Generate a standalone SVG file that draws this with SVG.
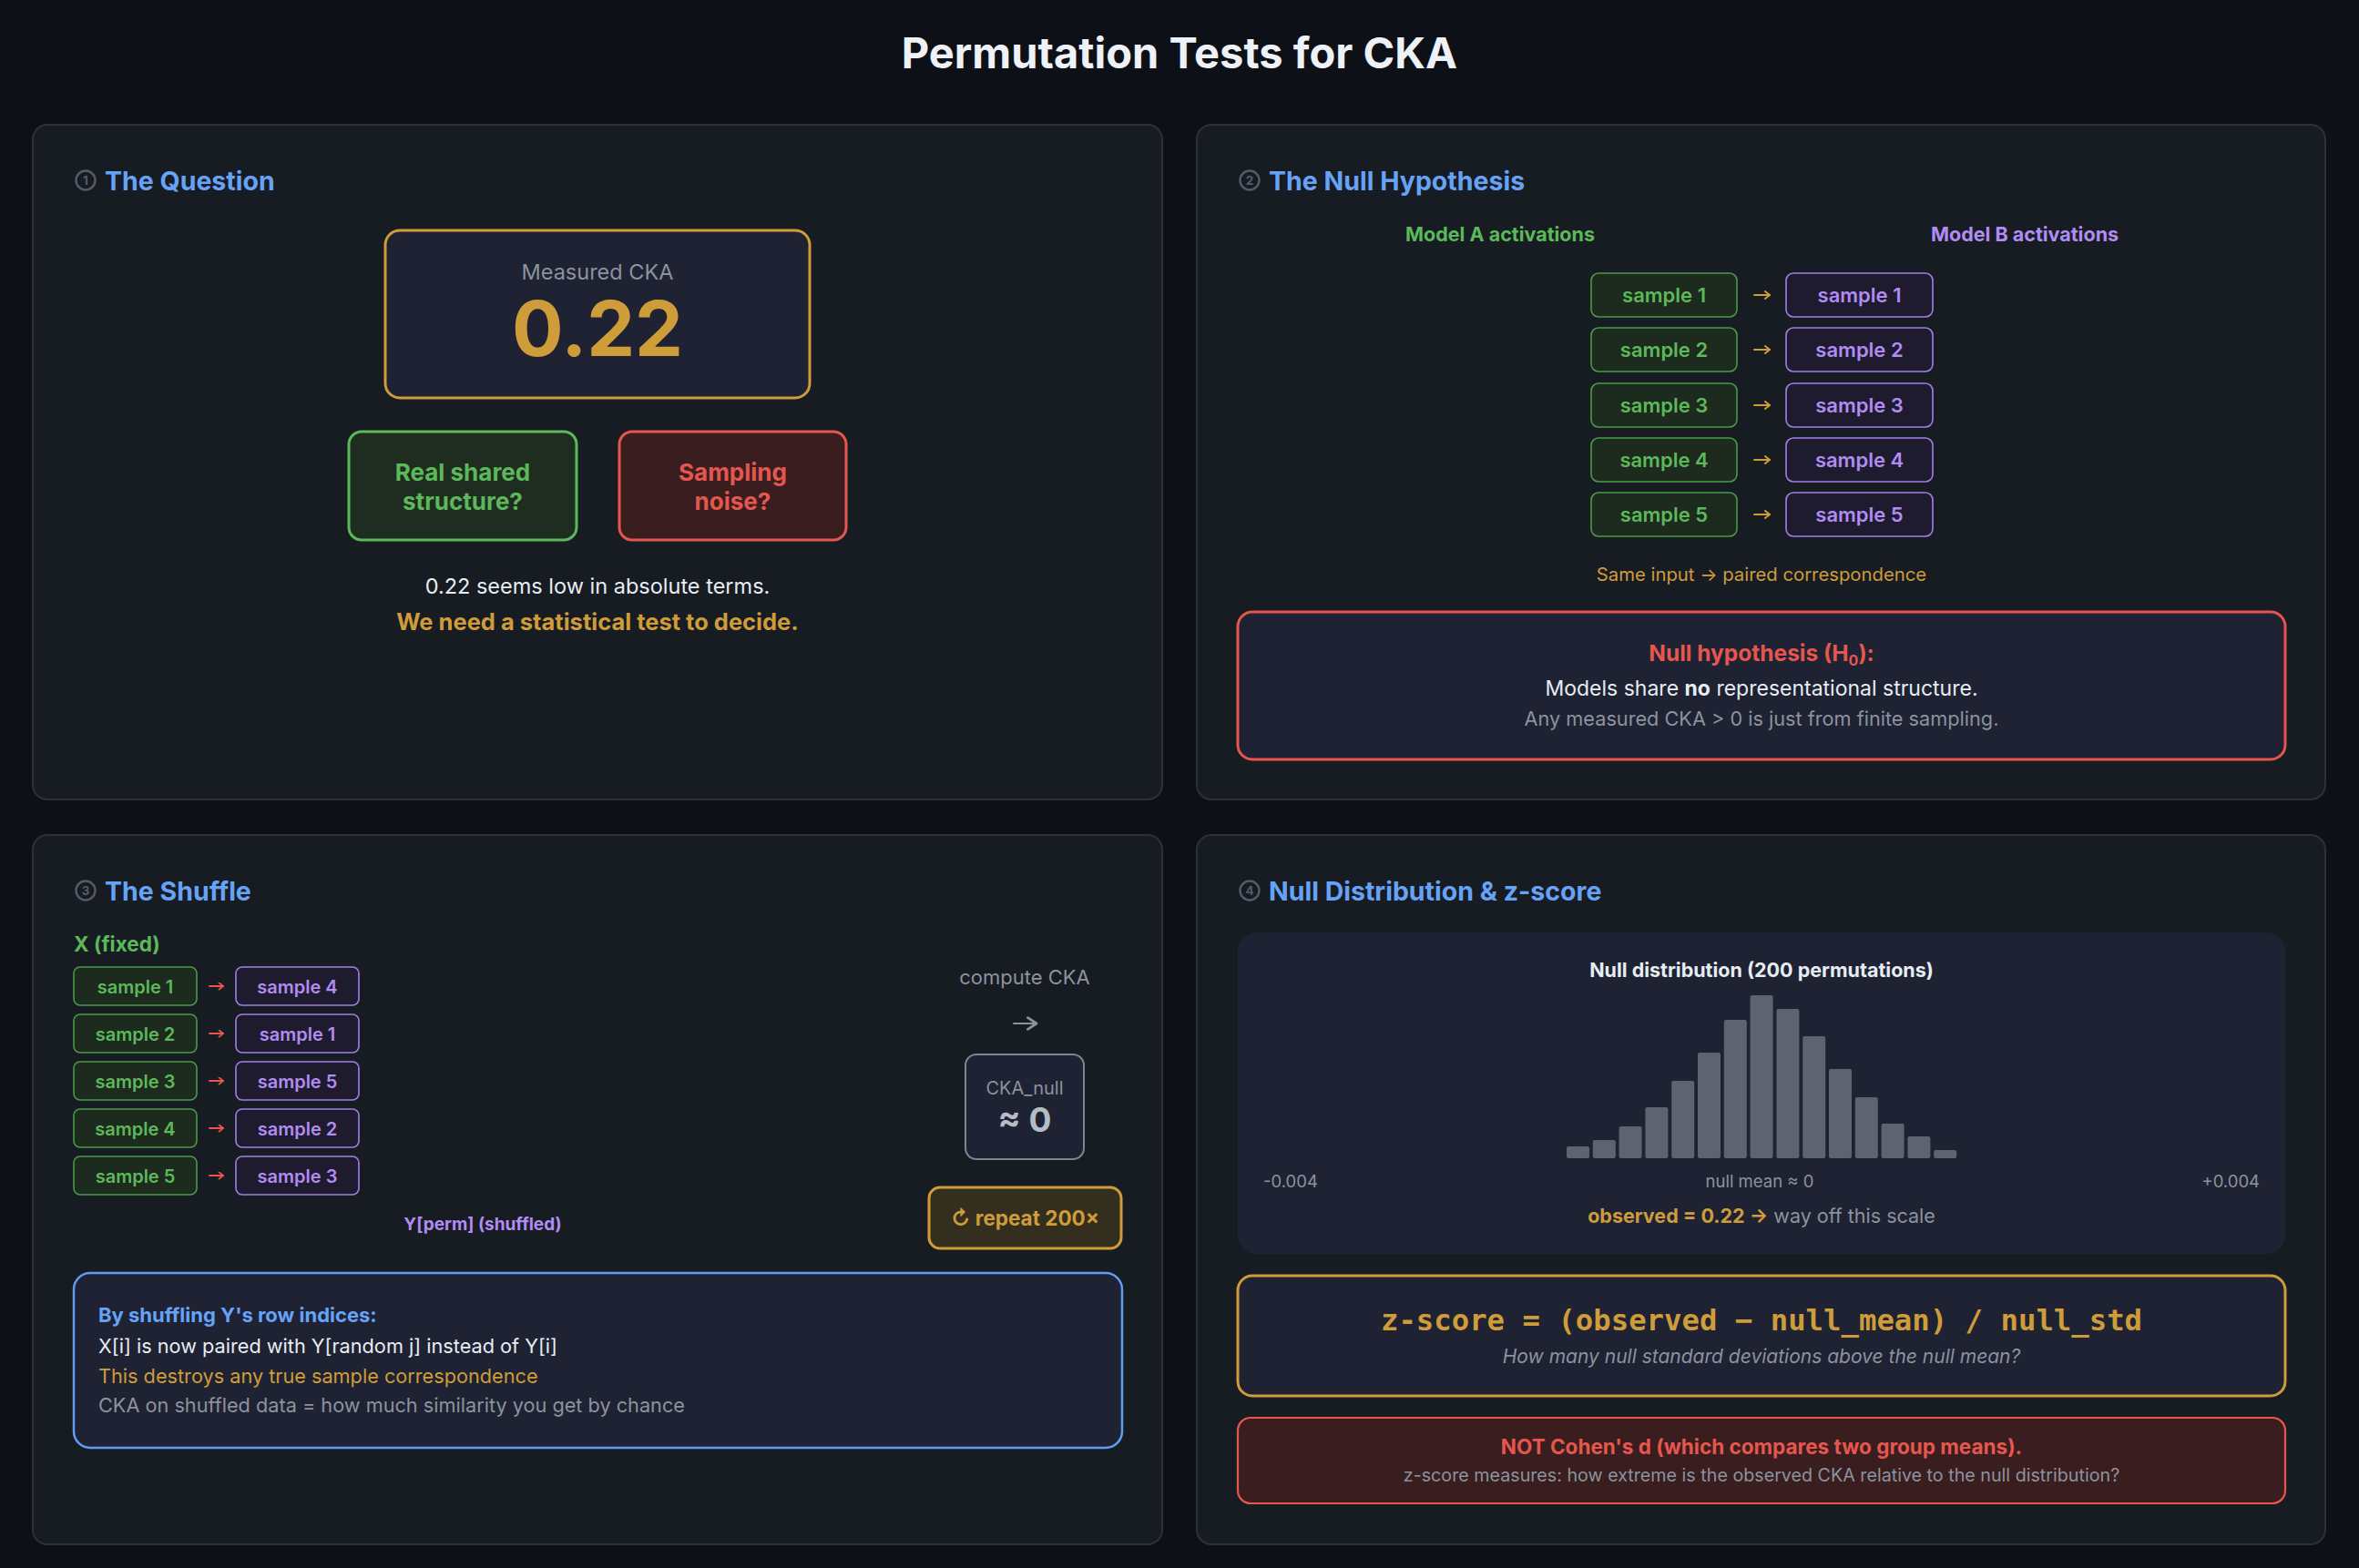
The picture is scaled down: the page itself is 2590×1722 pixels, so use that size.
<svg xmlns="http://www.w3.org/2000/svg" width="2590" height="1722" viewBox="0 0 2590 1722">
<defs>
<style>
text{font-family:Inter,"Noto Sans","Liberation Sans",sans-serif}
.panel{fill:#171b22;stroke:#2c3139;stroke-width:2}
.ptitle{font-size:28.5px;font-weight:700;fill:#66a3f7}
.pnumc{fill:none;stroke:#565c67;stroke-width:2.4}
.pnum{font-size:13.5px;font-weight:700;fill:#565c67;text-anchor:middle}
.c{text-anchor:middle}
.inner{fill:#1e2232}
.gA{fill:#1d2a1e;stroke:#4a9a48;stroke-width:1.6}
.gB{fill:#1f1b2e;stroke:#a27fe6;stroke-width:1.6}
.tA{fill:#5cb95a;font-weight:600;text-anchor:middle}
.tB{fill:#b18cf2;font-weight:600;text-anchor:middle}
.gold{fill:#cf9c3a}
.green{fill:#5cb95a}
.red{fill:#e5574e}
.purple{fill:#b18cf2}
.blue{fill:#66a3f7}
.gray{fill:#8b939e}
.white{fill:#e6edf3}
.bar{fill:#5d6370}
.arr{fill:none;stroke-width:2;stroke-linecap:round}
</style>
<marker id="ahGold" viewBox="0 0 10 10" refX="9" refY="5" markerWidth="10" markerHeight="10" markerUnits="userSpaceOnUse" orient="auto"><path d="M4,1 L9,5 L4,9" fill="none" stroke="#cf9c3a" stroke-width="2" stroke-linecap="round" stroke-linejoin="round"/></marker>
<marker id="ahRed" viewBox="0 0 10 10" refX="9" refY="5" markerWidth="9" markerHeight="9" markerUnits="userSpaceOnUse" orient="auto"><path d="M4,1 L9,5 L4,9" fill="none" stroke="#e5574e" stroke-width="2" stroke-linecap="round" stroke-linejoin="round"/></marker>
<marker id="ahGray" viewBox="0 0 10 10" refX="9" refY="5" markerWidth="16" markerHeight="16" markerUnits="userSpaceOnUse" orient="auto"><path d="M3,1 L9,5 L3,9" fill="none" stroke="#8b939e" stroke-width="1.7" stroke-linecap="round" stroke-linejoin="round"/></marker>
</defs>
<rect width="2590" height="1722" fill="#0d1017"/>
<text x="1295" y="75" class="c" style="font-size:47px;font-weight:700" fill="#eef1f5">Permutation Tests for CKA</text>

<!-- Panel 1 -->
<g id="panel1">
<rect class="panel" x="36" y="137" width="1240" height="741" rx="16"/>
<circle class="pnumc" cx="94" cy="198" r="10.5"/><text class="pnum" x="94" y="203">1</text>
<text class="ptitle" x="115" y="209">The Question</text>
</g>
<g id="measured">
<rect x="423" y="253" width="466" height="184" rx="16" class="inner" stroke="#cf9c3a" stroke-width="3"/>
<text x="656" y="307" class="c gray" style="font-size:23.5px">Measured CKA</text>
<text x="656" y="391" class="c gold" style="font-size:84px;font-weight:700">0.22</text>
</g>
<g id="real">
<rect x="383" y="474" width="250" height="119" rx="14" fill="#1f2c20" stroke="#5cb95a" stroke-width="3"/>
<text x="508" y="528" class="c green" style="font-size:26px;font-weight:700">Real shared</text>
<text x="508" y="560" class="c green" style="font-size:26px;font-weight:700">structure?</text>
</g>
<g id="noise">
<rect x="680" y="474" width="249" height="119" rx="14" fill="#3a1d1f" stroke="#e5574e" stroke-width="3"/>
<text x="804.5" y="528" class="c red" style="font-size:26px;font-weight:700">Sampling</text>
<text x="804.5" y="560" class="c red" style="font-size:26px;font-weight:700">noise?</text>
</g>
<text x="656" y="652" class="c white" style="font-size:23.5px">0.22 seems low in absolute terms.</text>
<text x="656" y="692" class="c gold" style="font-size:25.5px;font-weight:700">We need a statistical test to decide.</text>

<!-- Panel 2 -->
<g id="panel2">
<rect class="panel" x="1314" y="137" width="1239" height="741" rx="16"/>
<circle class="pnumc" cx="1372" cy="198" r="10.5"/><text class="pnum" x="1372" y="203">2</text>
<text class="ptitle" x="1393" y="209">The Null Hypothesis</text>
<text x="1647" y="265" class="c green" style="font-size:21.5px;font-weight:700">Model A activations</text>
<text x="2223" y="265" class="c purple" style="font-size:21.5px;font-weight:700">Model B activations</text>
</g>
<g id="a1"><rect class="gA" x="1747" y="300" width="160" height="48" rx="8"/><text class="tA" x="1827" y="332" style="font-size:22px">sample 1</text></g>
<g id="a2"><rect class="gA" x="1747" y="360" width="160" height="48" rx="8"/><text class="tA" x="1827" y="392" style="font-size:22px">sample 2</text></g>
<g id="a3"><rect class="gA" x="1747" y="421" width="160" height="48" rx="8"/><text class="tA" x="1827" y="453" style="font-size:22px">sample 3</text></g>
<g id="a4"><rect class="gA" x="1747" y="481" width="160" height="48" rx="8"/><text class="tA" x="1827" y="513" style="font-size:22px">sample 4</text></g>
<g id="a5"><rect class="gA" x="1747" y="541" width="160" height="48" rx="8"/><text class="tA" x="1827" y="573" style="font-size:22px">sample 5</text></g>
<g id="b1"><rect class="gB" x="1961" y="300" width="161" height="48" rx="8"/><text class="tB" x="2041.5" y="332" style="font-size:22px">sample 1</text></g>
<g id="b2"><rect class="gB" x="1961" y="360" width="161" height="48" rx="8"/><text class="tB" x="2041.5" y="392" style="font-size:22px">sample 2</text></g>
<g id="b3"><rect class="gB" x="1961" y="421" width="161" height="48" rx="8"/><text class="tB" x="2041.5" y="453" style="font-size:22px">sample 3</text></g>
<g id="b4"><rect class="gB" x="1961" y="481" width="161" height="48" rx="8"/><text class="tB" x="2041.5" y="513" style="font-size:22px">sample 4</text></g>
<g id="b5"><rect class="gB" x="1961" y="541" width="161" height="48" rx="8"/><text class="tB" x="2041.5" y="573" style="font-size:22px">sample 5</text></g>
<text x="1934" y="638" class="c gold" style="font-size:20.3px">Same input → paired correspondence</text>
<g id="h0">
<rect x="1359" y="672" width="1150" height="162" rx="16" class="inner" stroke="#e5574e" stroke-width="3"/>
<text x="1934" y="726" class="c red" style="font-size:24.5px;font-weight:700">Null hypothesis (H<tspan style="font-size:16px" dy="5">0</tspan><tspan dy="-5">):</tspan></text>
<text x="1934" y="764" class="c white" style="font-size:23px">Models share <tspan font-weight="700">no</tspan> representational structure.</text>
<text x="1934" y="797" class="c gray" style="font-size:21.7px">Any measured CKA &gt; 0 is just from finite sampling.</text>
</g>

<!-- Panel 3 -->
<g id="panel3">
<rect class="panel" x="36" y="917" width="1240" height="779" rx="16"/>
<circle class="pnumc" cx="94" cy="978" r="10.5"/><text class="pnum" x="94" y="983">3</text>
<text class="ptitle" x="115" y="989">The Shuffle</text>
<text x="81" y="1045" class="green" style="font-size:22.5px;font-weight:700">X (fixed)</text>
<text x="530" y="1351" class="c purple" style="font-size:19px;font-weight:700">Y[perm] (shuffled)</text>
</g>
<g id="x1"><rect class="gA" x="81" y="1062" width="135" height="42" rx="7"/><text class="tA" x="148.5" y="1091" style="font-size:20px">sample 1</text></g>
<g id="x2"><rect class="gA" x="81" y="1114" width="135" height="42" rx="7"/><text class="tA" x="148.5" y="1143" style="font-size:20px">sample 2</text></g>
<g id="x3"><rect class="gA" x="81" y="1166" width="135" height="42" rx="7"/><text class="tA" x="148.5" y="1195" style="font-size:20px">sample 3</text></g>
<g id="x4"><rect class="gA" x="81" y="1218" width="135" height="42" rx="7"/><text class="tA" x="148.5" y="1247" style="font-size:20px">sample 4</text></g>
<g id="x5"><rect class="gA" x="81" y="1270" width="135" height="42" rx="7"/><text class="tA" x="148.5" y="1299" style="font-size:20px">sample 5</text></g>
<g id="y1"><rect class="gB" x="259" y="1062" width="135" height="42" rx="7"/><text class="tB" x="326.5" y="1091" style="font-size:20px">sample 4</text></g>
<g id="y2"><rect class="gB" x="259" y="1114" width="135" height="42" rx="7"/><text class="tB" x="326.5" y="1143" style="font-size:20px">sample 1</text></g>
<g id="y3"><rect class="gB" x="259" y="1166" width="135" height="42" rx="7"/><text class="tB" x="326.5" y="1195" style="font-size:20px">sample 5</text></g>
<g id="y4"><rect class="gB" x="259" y="1218" width="135" height="42" rx="7"/><text class="tB" x="326.5" y="1247" style="font-size:20px">sample 2</text></g>
<g id="y5"><rect class="gB" x="259" y="1270" width="135" height="42" rx="7"/><text class="tB" x="326.5" y="1299" style="font-size:20px">sample 3</text></g>
<text x="1125" y="1081" class="c gray" style="font-size:22px">compute CKA</text>
<g id="ckanull">
<rect x="1060" y="1158" width="130" height="115" rx="12" class="inner" stroke="#7d8591" stroke-width="2"/>
<text x="1125" y="1202" class="c gray" style="font-size:20px">CKA_null</text>
<text x="1125" y="1243" class="c" fill="#b4bcc6" style="font-size:37px;font-weight:700">≈ 0</text>
</g>
<g id="repeat">
<rect x="1020" y="1304" width="211" height="67" rx="12" fill="#342e1f" stroke="#cf9c3a" stroke-width="3"/>
<text x="1125.5" y="1346" class="c gold" style="font-size:22.5px;font-weight:700">↻ repeat 200×</text>
</g>
<g id="shuffleinfo">
<rect x="81" y="1398" width="1151" height="192" rx="18" class="inner" stroke="#5e9df0" stroke-width="2.5"/>
<text x="108" y="1452" class="blue" style="font-size:22px;font-weight:700">By shuffling Y's row indices:</text>
<text x="108" y="1486" class="white" style="font-size:21.7px">X[i] is now paired with Y[random j] instead of Y[i]</text>
<text x="108" y="1519" class="gold" style="font-size:21.7px">This destroys any true sample correspondence</text>
<text x="108" y="1551" class="gray" style="font-size:21.7px">CKA on shuffled data = how much similarity you get by chance</text>
</g>

<!-- Panel 4 -->
<g id="panel4">
<rect class="panel" x="1314" y="917" width="1239" height="779" rx="16"/>
<circle class="pnumc" cx="1372" cy="978" r="10.5"/><text class="pnum" x="1372" y="983">4</text>
<text class="ptitle" x="1393" y="989">Null Distribution &amp; z-score</text>
</g>
<g id="histogram">
<rect x="1359" y="1024" width="1150" height="353" rx="20" class="inner"/>
<text x="1934" y="1073" class="c white" style="font-size:21.5px;font-weight:700">Null distribution (200 permutations)</text>
<rect class="bar" x="1720" y="1259" width="25" height="13" rx="2"/>
<rect class="bar" x="1748.8" y="1252" width="25" height="20" rx="2"/>
<rect class="bar" x="1777.6" y="1237" width="25" height="35" rx="2"/>
<rect class="bar" x="1806.4" y="1216" width="25" height="56" rx="2"/>
<rect class="bar" x="1835.2" y="1187" width="25" height="85" rx="2"/>
<rect class="bar" x="1864" y="1156" width="25" height="116" rx="2"/>
<rect class="bar" x="1892.8" y="1120" width="25" height="152" rx="2"/>
<rect class="bar" x="1921.6" y="1093" width="25" height="179" rx="2"/>
<rect class="bar" x="1950.4" y="1108" width="25" height="164" rx="2"/>
<rect class="bar" x="1979.2" y="1138" width="25" height="134" rx="2"/>
<rect class="bar" x="2008" y="1174" width="25" height="98" rx="2"/>
<rect class="bar" x="2036.8" y="1205" width="25" height="67" rx="2"/>
<rect class="bar" x="2065.6" y="1234" width="25" height="38" rx="2"/>
<rect class="bar" x="2094.4" y="1248" width="25" height="24" rx="2"/>
<rect class="bar" x="2123.2" y="1263" width="25" height="9" rx="2"/>
<text x="1387" y="1304" class="gray" style="font-size:18.5px">-0.004</text>
<text x="1932" y="1304" class="c gray" style="font-size:18.5px">null mean ≈ 0</text>
<text x="2481" y="1304" class="gray" text-anchor="end" style="font-size:18.5px">+0.004</text>
<text x="1934" y="1343" class="c" style="font-size:21.5px"><tspan class="gold" font-weight="700">observed = 0.22 →</tspan><tspan class="gray"> way off this scale</tspan></text>
</g>
<g id="zscore">
<rect x="1359" y="1401" width="1150" height="132" rx="16" class="inner" stroke="#cf9c3a" stroke-width="3"/>
<text x="1934" y="1461" class="c gold" style="font-family:'DejaVu Sans Mono','Liberation Mono',monospace;font-size:32.3px;font-weight:700">z-score = (observed − null_mean) / null_std</text>
<text x="1934" y="1497" class="c gray" style="font-size:21px;font-style:italic">How many null standard deviations above the null mean?</text>
</g>
<g id="notcohen">
<rect x="1359" y="1557" width="1150" height="94" rx="14" fill="#3a1d1f" stroke="#e5574e" stroke-width="2.2"/>
<text x="1934" y="1597" class="c red" style="font-size:22.5px;font-weight:700">NOT Cohen's d (which compares two group means).</text>
<text x="1934" y="1627" class="c gray" style="font-size:19.7px">z-score measures: how extreme is the observed CKA relative to the null distribution?</text>
</g>

<g id="connectors">
<path class="arr" stroke="#cf9c3a" d="M1926,324 H1943" marker-end="url(#ahGold)"/>
<path class="arr" stroke="#cf9c3a" d="M1926,384 H1943" marker-end="url(#ahGold)"/>
<path class="arr" stroke="#cf9c3a" d="M1926,445 H1943" marker-end="url(#ahGold)"/>
<path class="arr" stroke="#cf9c3a" d="M1926,505 H1943" marker-end="url(#ahGold)"/>
<path class="arr" stroke="#cf9c3a" d="M1926,565 H1943" marker-end="url(#ahGold)"/>
<path class="arr" stroke="#e5574e" d="M230,1083 H245" marker-end="url(#ahRed)"/>
<path class="arr" stroke="#e5574e" d="M230,1135 H245" marker-end="url(#ahRed)"/>
<path class="arr" stroke="#e5574e" d="M230,1187 H245" marker-end="url(#ahRed)"/>
<path class="arr" stroke="#e5574e" d="M230,1239 H245" marker-end="url(#ahRed)"/>
<path class="arr" stroke="#e5574e" d="M230,1291 H245" marker-end="url(#ahRed)"/>
<path class="arr" stroke="#8b939e" stroke-width="2.8" d="M1113,1124 H1138" marker-end="url(#ahGray)"/>
</g>
</svg>
